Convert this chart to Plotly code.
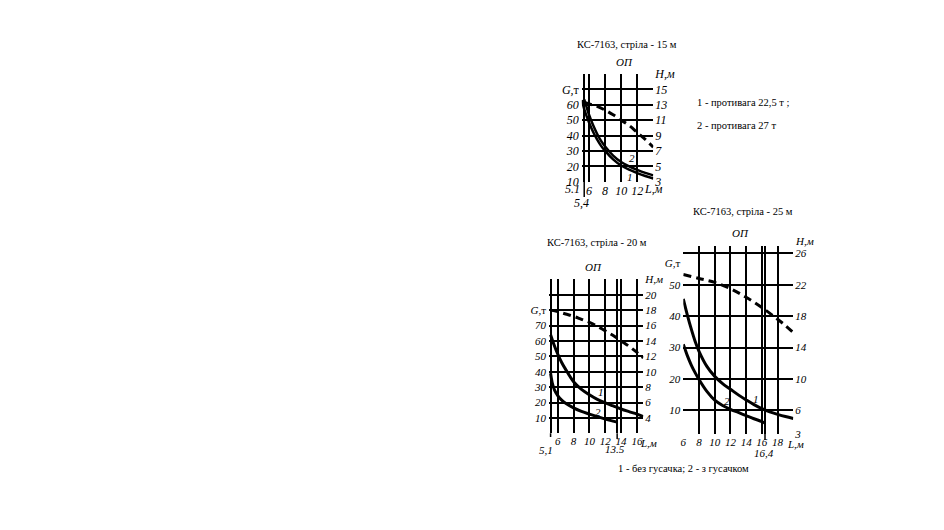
import plotly.graph_objects as go

PAGE_OFF = 8            # browser body margin
W, H_PX = 944 - 2 * PAGE_OFF, 530 - 2 * PAGE_OFF
SERIF = "Liberation Serif, Times New Roman, serif"
UP_T = "<span style='font-style:normal'>т</span>"

# ---------------- Chart 1: boom 15 m ----------------
L15_1 = [5.1, 5.5, 6, 6.5, 7, 7.5, 8, 9, 10, 11, 12, 13, 14]
G15_1 = [63, 55.5, 48.5, 42.5, 37.5, 33.3, 30, 24.5, 20.5, 17.8, 15.6, 13.7, 12.1]
L15_2 = [5.4, 5.7, 6, 6.5, 7, 7.5, 8, 9, 10, 11, 12, 13, 14]
G15_2 = [63.5, 58.5, 53.5, 46.8, 41.2, 36.5, 32.9, 27, 22.8, 20, 17.7, 15.7, 14.1]
L15_H = [5.4, 6, 7, 8, 9, 10, 11, 12, 13, 14]
H15 = [13.3, 13.1, 12.8, 12.3, 11.7, 11.0, 10.3, 9.4, 8.5, 7.5]
X15_TICKS = [5.1, 5.4, 6, 8, 10, 12, 14]
X15_TEXT = ["", "", "6", "8", "10", "12", ""]
G15_TICKS = [10, 20, 30, 40, 50, 60, 70]
G15_TEXT = ["10", "20", "30", "40", "50", "60", "G," + UP_T]
H15_TICKS = [3, 5, 7, 9, 11, 13, 15, 17]
H15_TEXT = ["3", "5", "7", "9", "11", "13", "15", "H,м"]

# ---------------- Chart 2: boom 20 m ----------------
L20_1 = [5.1, 5.5, 6, 6.5, 7, 8, 9, 10, 11, 12, 13, 14, 15, 16, 16.8]
G20_1 = [64, 58, 51.5, 46, 41.5, 33.5, 28.5, 25, 22, 19.8, 17.8, 15.8, 14.1, 12.5, 10.8]
L20_2 = [5.1, 5.3, 5.6, 6, 6.5, 7, 8, 9, 10, 11, 12, 13, 13.5]
G20_2 = [39, 33, 28, 24.5, 21.5, 19.5, 16.5, 14.2, 12.5, 10.8, 9.2, 7.9, 7.3]
L20_H = [5.1, 6, 7, 8, 9, 10, 11, 12, 13, 14, 15, 16, 16.8]
H20 = [18, 17.8, 17.5, 17.2, 16.8, 16.4, 15.9, 15.3, 14.7, 14.0, 13.3, 12.5, 11.8]
X20_TICKS = [4.9, 5.1, 6, 8, 10, 12, 13.5, 14, 16, 16.8]
X20_TEXT = ["", "", "6", "8", "10", "12", "", "14", "16", ""]
G20_TICKS = [10, 20, 30, 40, 50, 60, 70, 80]
G20_TEXT = ["10", "20", "30", "40", "50", "60", "70", "G," + UP_T]
H20_TICKS = [4, 6, 8, 10, 12, 14, 16, 18, 20, 22]
H20_TEXT = ["4", "6", "8", "10", "12", "14", "16", "18", "20", "H,м"]

# ---------------- Chart 3: boom 25 m ----------------
L25_1 = [6, 6.5, 7, 7.5, 8, 9, 10, 11, 12, 13, 14, 15, 16, 17, 18, 19, 20]
G25_1 = [45.5, 40.5, 36, 32, 28.8, 24, 20.8, 18.5, 16.7, 14.9, 13.3, 11.8, 10.5, 9.5, 8.7, 8, 7.4]
L25_2 = [6, 6.5, 7, 7.5, 8, 9, 10, 11, 12, 13, 14, 15, 16, 16.4]
G25_2 = [31, 27.5, 24.5, 22, 19.8, 16, 13.2, 11.5, 10.3, 9.3, 8.3, 7.3, 6.4, 5.9]
L25_H = [6, 8, 10, 12, 14, 16, 18, 19, 20]
H25 = [23.3, 22.8, 22.3, 21.5, 20.4, 19.1, 17.6, 16.8, 15.9]
X25_TICKS = [6, 8, 10, 12, 14, 16, 16.4, 18, 20]
X25_TEXT = ["6", "8", "10", "12", "14", "16", "", "18", ""]
G25_TICKS = [10, 20, 30, 40, 50, 57]
G25_TEXT = ["10", "20", "30", "40", "50", "G," + UP_T]
H25_TICKS = [3, 6, 10, 14, 18, 22, 26, 27]
H25_TEXT = ["3", "6", "10", "14", "18", "22", "26", ""]


def px_x(p):
    return (p - PAGE_OFF) / W


def px_y(p):
    return 1 - (p - PAGE_OFF) / H_PX


fig = go.Figure()
solid = dict(color="black", width=3, shape="spline")
dashed = dict(color="black", width=3, dash="8px,5px", shape="spline")
thin = dict(color="black", width=2.5, shape="spline")

fig.add_trace(go.Scatter(x=L15_1, y=G15_1, mode="lines", line=thin, xaxis="x", yaxis="y"))
fig.add_trace(go.Scatter(x=L15_2, y=G15_2, mode="lines", line=thin, xaxis="x", yaxis="y"))
fig.add_trace(go.Scatter(x=L15_H, y=H15, mode="lines", line=dashed, xaxis="x", yaxis="y2"))
fig.add_trace(go.Scatter(x=L20_1, y=G20_1, mode="lines", line=solid, xaxis="x2", yaxis="y3"))
fig.add_trace(go.Scatter(x=L20_2, y=G20_2, mode="lines", line=solid, xaxis="x2", yaxis="y3"))
fig.add_trace(go.Scatter(x=L20_H, y=H20, mode="lines", line=dashed, xaxis="x2", yaxis="y4"))
fig.add_trace(go.Scatter(x=L25_1, y=G25_1, mode="lines", line=solid, xaxis="x3", yaxis="y5"))
fig.add_trace(go.Scatter(x=L25_2, y=G25_2, mode="lines", line=solid, xaxis="x3", yaxis="y5"))
fig.add_trace(go.Scatter(x=L25_H, y=H25, mode="lines", line=dashed, xaxis="x3", yaxis="y6"))


def tick_font(s):
    return dict(family=SERIF, size=s, color="black", style="italic")


def xaxis(dom, rng, tv, tt, anchor, fs):
    return dict(domain=dom, range=rng, anchor=anchor, tickvals=tv, ticktext=tt,
                showgrid=True, gridcolor="black", gridwidth=1.5, zeroline=False,
                showline=False, ticks="", tickangle=0, tickfont=tick_font(fs),
                automargin=False, ticklabelstandoff=0)


def gaxis(dom, rng, tv, tt, anchor, fs):
    return dict(domain=dom, range=rng, anchor=anchor, tickvals=tv, ticktext=tt,
                showgrid=False, zeroline=False, showline=False, ticks="",
                side="left", tickfont=tick_font(fs), automargin=False,
                ticklabelstandoff=2)


def haxis(rng, tv, tt, overlay, anchor, fs):
    return dict(range=rng, overlaying=overlay, anchor=anchor, side="right",
                tickvals=tv, ticktext=tt, showgrid=True, gridcolor="black",
                gridwidth=1.5, zeroline=False, showline=False, ticks="",
                tickfont=tick_font(fs), automargin=False, ticklabelstandoff=1)


d1x = [px_x(581.8), px_x(653.3)]
d1y = [px_y(181.7), px_y(74)]
d2x = [px_x(549.0), px_x(643.3)]
d2y = [px_y(433.3), px_y(279.3)]
d3x = [px_x(683.3), px_x(793.3)]
d3y = [px_y(433.8), px_y(245.5)]

fig.update_layout(
    template="none",
    width=W, height=H_PX, margin=dict(l=0, r=0, t=0, b=0, autoexpand=False),
    paper_bgcolor="white", plot_bgcolor="rgba(0,0,0,0)", showlegend=False,
    xaxis=xaxis(d1x, [5.1, 14], X15_TICKS, X15_TEXT, "y", 12),
    yaxis=gaxis(d1y, [10, 80], G15_TICKS, G15_TEXT, "x", 12),
    yaxis2=haxis([3, 17], H15_TICKS, H15_TEXT, "y", "x", 12),
    xaxis2=xaxis(d2x, [4.9, 16.8], X20_TICKS, X20_TEXT, "y3", 11),
    yaxis3=gaxis(d2y, [0, 100], G20_TICKS, G20_TEXT, "x2", 11),
    yaxis4=haxis([2, 22], H20_TICKS, H20_TEXT, "y3", "x2", 11),
    xaxis3=xaxis(d3x, [6, 20], X25_TICKS, X25_TEXT, "y5", 11),
    yaxis5=gaxis(d3y, [2.5, 62.5], G25_TICKS, G25_TEXT, "x3", 11),
    yaxis6=haxis([3, 27], H25_TICKS, H25_TEXT, "y5", "x3", 11),
)

ann = []
txt_font = dict(family=SERIF, size=10.5, color="black")
it_font = dict(family=SERIF, size=11, color="black", style="italic")


def pa(text, x, y, font=txt_font, xanchor="center"):
    ann.append(dict(text=text, x=px_x(x), y=px_y(y), xref="paper", yref="paper",
                    showarrow=False, font=font, xanchor=xanchor, yanchor="middle"))


def da(text, x, y, xr, yr, font=it_font, xanchor="center", xshift=0):
    ann.append(dict(text=text, x=x, y=y, xref=xr, yref=yr, showarrow=False,
                    font=font, xanchor=xanchor, yanchor="middle", xshift=xshift))


pa("КС-7163, стріла - 15 м", 627, 45)
pa("ОП", 624, 62, it_font)
pa("КС-7163, стріла - 20 м", 597, 243)
pa("ОП", 593, 267, it_font)
pa("КС-7163, стріла - 25 м", 743, 212)
pa("ОП", 740, 233, it_font)
pa("1 - противага 22,5 т ;", 695, 102, xanchor="left")
pa("2 - противага 27 т", 695, 126, xanchor="left")
pa("1 - без гусачка; 2 - з гусачком", 683, 468)

# curve labels
da("2", 11.3, 25.2, "x", "y")
da("1", 11.1, 13.2, "x", "y")
da("1", 11.4, 26.6, "x2", "y3")
da("2", 11.1, 14.0, "x2", "y3")
da("1", 15.3, 13.6, "x3", "y5")
da("2", 11.5, 12.8, "x3", "y5")

f12 = tick_font(12)
f11 = tick_font(11)


def xa(text, xval, xr, ypx, font, xanchor="center", xshift=0):
    ann.append(dict(text=text, x=xval, y=px_y(ypx), xref=xr, yref="paper",
                    showarrow=False, font=font, xanchor=xanchor, xshift=xshift,
                    yanchor="middle"))


xa("5.1", X15_TICKS[0], "x", 189, f12, "right", 0)
xa("5,4", X15_TICKS[1], "x", 203, f12, "center", -3)
xa("L,м", X15_TICKS[-1], "x", 189, f12, "center", 0)
xa("5,1", X20_TICKS[1], "x2", 450, f11, "center", -5)
xa("13.5", X20_TICKS[6], "x2", 449, f11, "center", -2)
xa("L,м", X20_TICKS[-1], "x2", 443, f11, "left", -5)
xa("16,4", X25_TICKS[6], "x3", 453, f11, "center", -1)
xa("L,м", X25_TICKS[-1], "x3", 444, f11, "center", 2)
ann.append(dict(text="H,м", x=px_x(793), y=px_y(241.5), xref="paper", yref="paper",
                showarrow=False, font=f11, xanchor="left", yanchor="middle"))
fig.update_layout(annotations=ann)

shapes = [
    dict(type="line", xref="x", yref="paper", x0=X15_TICKS[1], x1=X15_TICKS[1],
         y0=px_y(181.7), y1=px_y(197), line=dict(color="black", width=1.5)),
    dict(type="line", xref="x2", yref="paper", x0=X20_TICKS[1], x1=X20_TICKS[1],
         y0=px_y(433.3), y1=px_y(437), line=dict(color="black", width=1.5)),
    dict(type="line", xref="x2", yref="paper", x0=X20_TICKS[6], x1=X20_TICKS[6],
         y0=px_y(433.3), y1=px_y(439), line=dict(color="black", width=1.5)),
    dict(type="line", xref="x3", yref="paper", x0=X25_TICKS[6], x1=X25_TICKS[6],
         y0=px_y(433.8), y1=px_y(440), line=dict(color="black", width=1.5)),
]
fig.update_layout(shapes=shapes)

fig.write_html("out.html")
